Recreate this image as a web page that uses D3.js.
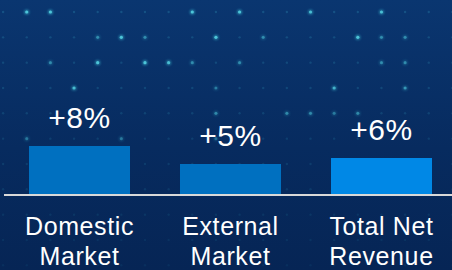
<!DOCTYPE html>
<html>
<head>
<meta charset="utf-8">
<script src="https://cdn.jsdelivr.net/npm/d3@7"></script>
<style>
  html, body { margin: 0; padding: 0; background: #07295c; }
  svg { display: block; }
</style>
</head>
<body>
<svg id="svg"></svg>
<script>
// chart data
var categories = ["Domestic Market", "External Market", "Total Net Revenue"];
var catLines = [["Domestic", "Market"], ["External", "Market"], ["Total Net", "Revenue"]];
var growth = [8, 5, 6];
var valueLabels = ["+8%", "+5%", "+6%"];
var barColors = ["#0070c0", "#0070c0", "#0088e6"];

// background dots that glow brighter: [column, row, strength]
var brightDots = [
  [1, 0, 1], [2, 0, 1], [8, 0, 1], [10, 0, 1], [13, 0, 0.9], [16, 0, 0.9],
  [5, 1, 1], [9, 1, 1], [15, 1, 1], [4, 1, 0.45], [6, 1, 0.45], [11, 1, 0.45], [16, 1, 0.45], [17, 1, 0.45],
  [4, 2, 1], [6, 2, 1], [7, 2, 0.9], [2, 2, 0.45], [8, 2, 0.45], [10, 2, 0.45], [16, 2, 0.45], [17, 2, 0.45],
  [3, 3, 0.9], [14, 3, 0.8], [17, 3, 0.55], [9, 3, 0.35],
  [9, 4, 0.45], [12, 4, 0.45], [13, 4, 0.45], [15, 4, 0.45], [14, 4, 0.35],
  [1, 5, 0.35], [5, 5, 0.35], [9, 5, 0.3]
];

var W = 452, H = 270;

var svg = d3.select("#svg")
    .attr("width", W)
    .attr("height", H);

var defs = svg.append("defs");
var grad = defs.append("linearGradient")
    .attr("id", "bg")
    .attr("x1", 0).attr("y1", 0).attr("x2", 0).attr("y2", 1);
grad.append("stop").attr("offset", "0%").attr("stop-color", "#0a3670");
grad.append("stop").attr("offset", "55%").attr("stop-color", "#072b5f");
grad.append("stop").attr("offset", "100%").attr("stop-color", "#062555");

var glow = defs.append("filter").attr("id", "glow")
    .attr("x", "-2").attr("y", "-2").attr("width", "5").attr("height", "5");
glow.append("feGaussianBlur").attr("stdDeviation", 1.2);

svg.append("rect")
    .attr("width", W)
    .attr("height", H)
    .attr("fill", "url(#bg)");

// dot grid
var dotX = d3.scaleLinear().domain([0, 19]).range([3.1, 452.4]);
var dotY = d3.scaleLinear().domain([0, 10]).range([12, 265.3]);
var fade = d3.scaleLinear().domain([0, 10]).range([0.22, 0.07]);

var grid = [];
for (var r = 0; r <= 10; r++)
    for (var c = 0; c <= 19; c++) grid.push([c, r]);

var dots = svg.append("g").attr("id", "dots");
dots.selectAll("circle.dim")
    .data(grid)
    .enter().append("circle")
    .attr("class", "dim")
    .attr("cx", function(d){ return dotX(d[0]); })
    .attr("cy", function(d){ return dotY(d[1]); })
    .attr("r", 1.2)
    .attr("fill", "#3fb6d0")
    .attr("opacity", function(d){ return fade(d[1]); });

dots.selectAll("circle.halo")
    .data(brightDots)
    .enter().append("circle")
    .attr("class", "halo")
    .attr("cx", function(d){ return dotX(d[0]); })
    .attr("cy", function(d){ return dotY(d[1]); })
    .attr("r", 2.6)
    .attr("fill", "#40c8dc")
    .attr("filter", "url(#glow)")
    .attr("opacity", function(d){ return 0.5 * d[2]; });

dots.selectAll("circle.core")
    .data(brightDots)
    .enter().append("circle")
    .attr("class", "core")
    .attr("cx", function(d){ return dotX(d[0]); })
    .attr("cy", function(d){ return dotY(d[1]); })
    .attr("r", 1.6)
    .attr("fill", "#55d0e0")
    .attr("opacity", function(d){ return 0.85 * d[2]; });

// bars
var x = d3.scaleBand()
    .domain(categories)
    .range([4, 457])
    .paddingInner(0.331)
    .paddingOuter(0.1655);

var y = d3.scaleLinear()
    .domain([0, 8])
    .range([194, 146]);

var chart = svg.append("g").attr("id", "barchart");

chart.selectAll("rect.bar")
    .data(growth)
    .enter().append("rect")
    .attr("class", "bar")
    .attr("x", function(d, i){ return x(categories[i]); })
    .attr("y", function(d){ return y(d); })
    .attr("width", x.bandwidth())
    .attr("height", function(d){ return y(0) - y(d); })
    .attr("fill", function(d, i){ return barColors[i]; });

chart.selectAll("text.val")
    .data(growth)
    .enter().append("text")
    .attr("class", "val")
    .attr("x", function(d, i){ return x(categories[i]) + x.bandwidth() / 2; })
    .attr("y", function(d){ return y(d) - 18; })
    .attr("text-anchor", "middle")
    .attr("fill", "#ffffff")
    .style("font-family", "'Liberation Sans', Arial, sans-serif")
    .style("font-size", "30px")
    .style("letter-spacing", "0.5px")
    .text(function(d, i){ return valueLabels[i]; });

// baseline
chart.append("line")
    .attr("x1", 4).attr("x2", W)
    .attr("y1", y(0) + 1).attr("y2", y(0) + 1)
    .attr("stroke", "#d9d9d9")
    .attr("stroke-width", 2);

// category labels
var cat = chart.selectAll("text.cat")
    .data(categories)
    .enter().append("text")
    .attr("class", "cat")
    .attr("text-anchor", "middle")
    .attr("fill", "#ffffff")
    .style("font-family", "'Liberation Sans', Arial, sans-serif")
    .style("font-size", "25px")
    .style("letter-spacing", "0.6px");

cat.selectAll("tspan")
    .data(function(d, i){ return catLines[i].map(function(t){ return {t: t, c: d}; }); })
    .enter().append("tspan")
    .attr("x", function(d){ return x(d.c) + x.bandwidth() / 2; })
    .attr("y", function(d, j){ return 235 + j * 30; })
    .text(function(d){ return d.t; });
</script>
</body>
</html>
